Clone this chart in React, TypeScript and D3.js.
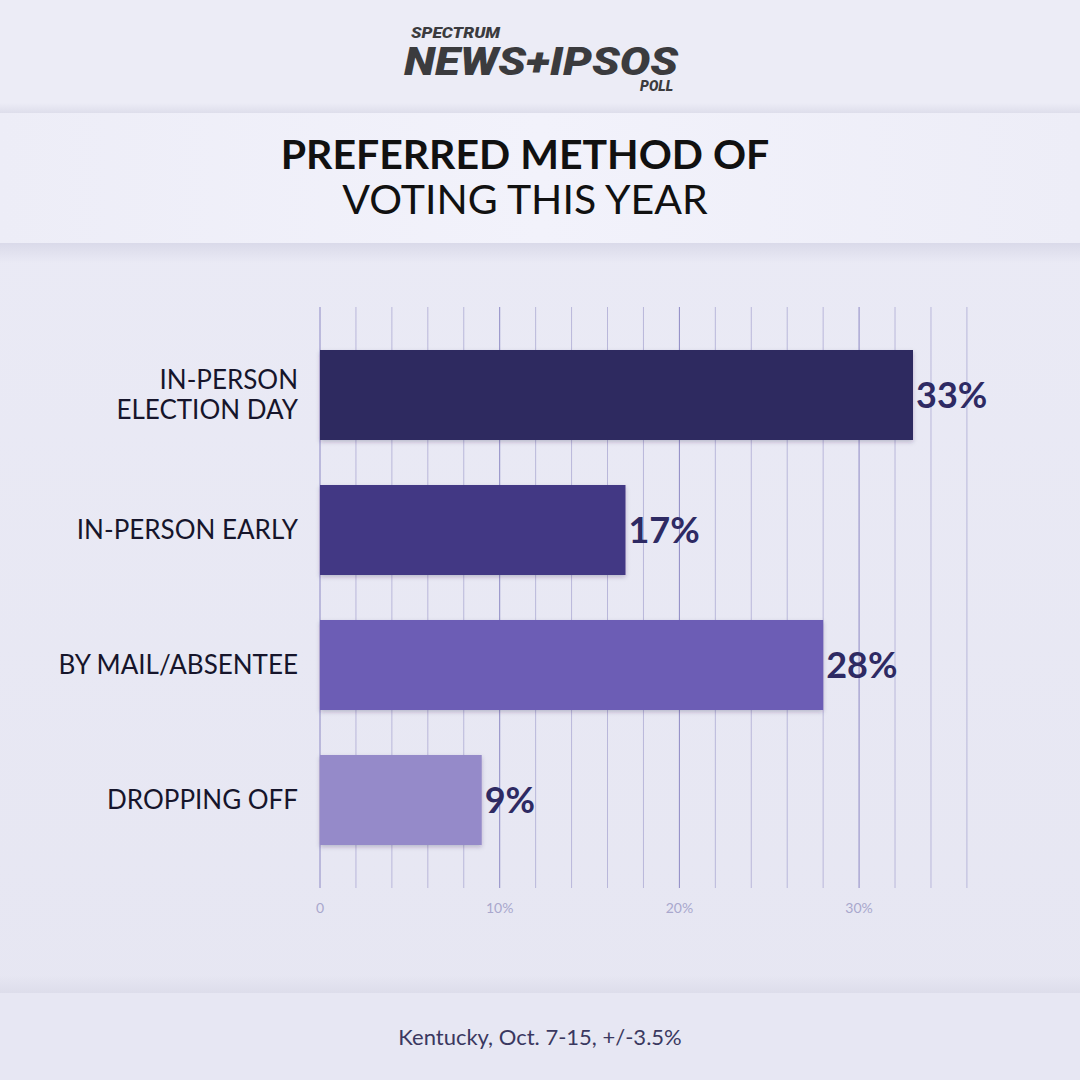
import React from "react";
import * as d3 from "d3";

const categories: string[][] = [["IN-PERSON", "ELECTION DAY"], ["IN-PERSON EARLY"], ["BY MAIL/ABSENTEE"], ["DROPPING OFF"]];
const values: number[] = [33, 17, 28, 9];
const barColors: string[] = ["#2e2961", "#433784", "#6c5db5", "#958ac9"];
const gridTicks: number[] = d3.range(0, 37, 2);
const labelTicks: number[] = [0, 10, 20, 30];
const tickLabels: string[] = ["0", "10%", "20%", "30%"];

export default function App() {
  const W = 1080, H = 1080;
  const x = d3.scaleLinear().domain([0, 33]).range([320, 913]);
  const yb = d3.scaleBand<number>().domain(d3.range(values.length)).range([350, 845]).paddingInner(1 / 3).paddingOuter(0);
  const font = "Lato, 'Open Sans', sans-serif";
  return (
    <div style={{ position: "absolute", left: 0, top: 0, margin: 0 }}>
      <svg width={W} height={H} style={{ display: "block" }}>
        <defs>
          <linearGradient id="bg" x1="0" y1="0" x2="0" y2="1">
            <stop offset="0" stopColor="#ebebf6" />
            <stop offset="1" stopColor="#e6e6f2" />
          </linearGradient>
          <linearGradient id="band" x1="0" y1="0" x2="1" y2="0">
            <stop offset="0" stopColor="#ededf7" />
            <stop offset="0.5" stopColor="#f2f2fb" />
            <stop offset="1" stopColor="#ededf7" />
          </linearGradient>
          <linearGradient id="shadowDown" x1="0" y1="0" x2="0" y2="1">
            <stop offset="0" stopColor="#d8d8e8" stopOpacity="0.9" />
            <stop offset="1" stopColor="#d8d8e8" stopOpacity="0" />
          </linearGradient>
          <linearGradient id="shadowUp" x1="0" y1="1" x2="0" y2="0">
            <stop offset="0" stopColor="#dcdcea" stopOpacity="0.9" />
            <stop offset="1" stopColor="#dcdcea" stopOpacity="0" />
          </linearGradient>
          <filter id="ds" x="-10%" y="-10%" width="130%" height="140%">
            <feDropShadow dx="0" dy="2" stdDeviation="2" floodColor="#2a2550" floodOpacity="0.25" />
          </filter>
        </defs>
        <rect x={0} y={0} width={W} height={H} fill="url(#bg)" />
        {/* header */}
        <rect x={0} y={0} width={W} height={113} fill="#ececf6" />
        <rect x={0} y={113} width={W} height={130} fill="url(#band)" />
        <rect x={0} y={243} width={W} height={20} fill="url(#shadowDown)" />
        <rect x={0} y={103} width={W} height={10} fill="url(#shadowUp)" />
        {/* footer */}
        <rect x={0} y={975} width={W} height={18} fill="url(#shadowUp)" />
        <rect x={0} y={993} width={W} height={87} fill="#e7e7f3" />

        {/* logo */}
        <g fontFamily="Roboto, 'Open Sans', sans-serif" fontStyle="italic" fill="#3b3b3e">
          <text x={411} y={38} fontSize={15} fontWeight={900} textLength={89} lengthAdjust="spacingAndGlyphs">SPECTRUM</text>
          <text x={404} y={75} fontSize={38} fontWeight={900} textLength={274} lengthAdjust="spacingAndGlyphs">NEWS+IPSOS</text>
          <text x={673} y={91} fontSize={14} fontWeight={900} textAnchor="end">POLL</text>
        </g>

        {/* title */}
        <text x={525} y={169} textAnchor="middle" fontFamily={font} fontWeight={700} fontSize={41} fill="#111">PREFERRED METHOD OF</text>
        <text x={525} y={214} textAnchor="middle" fontFamily={font} fontWeight={400} fontSize={41} fill="#111">VOTING THIS YEAR</text>

        {/* grid */}
        {gridTicks.map((t) => (
          <line key={t} x1={x(t)} x2={x(t)} y1={307} y2={888}
            stroke={t % 10 === 0 ? "#8d89c4" : "#b9b7da"} strokeWidth={1} />
        ))}
        {labelTicks.map((t, i) => (
          <text key={t} x={x(t)} y={913} textAnchor="middle" fontFamily={font} fontSize={14} fill="#a9a7cd">{tickLabels[i]}</text>
        ))}

        {/* bars */}
        {values.map((v, i) => {
          const y0 = yb(i)!;
          const bh = yb.bandwidth();
          const lines = categories[i];
          const cy = y0 + bh / 2;
          return (
            <g key={i}>
              <rect x={x(0)} y={y0} width={x(v) - x(0)} height={bh} fill={barColors[i]} filter="url(#ds)" />
              <text x={x(v) + 3} y={cy + 13} fontFamily={font} fontWeight={700} fontSize={36} fill="#2e2a63">{v}%</text>
              {lines.map((l, j) => (
                <text key={j} x={298} y={cy + 9 + (j - (lines.length - 1) / 2) * 30} textAnchor="end"
                  fontFamily={font} fontSize={26} fill="#16152b">{l}</text>
              ))}
            </g>
          );
        })}

        <text x={540} y={1045} textAnchor="middle" fontFamily={font} fontSize={22} fill="#3a3860">Kentucky, Oct. 7-15, +/-3.5%</text>
      </svg>
    </div>
  );
}
